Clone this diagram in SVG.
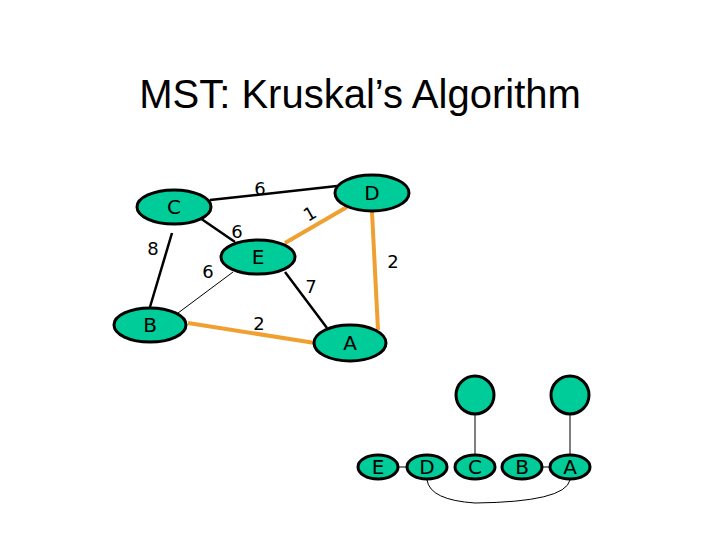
<svg xmlns="http://www.w3.org/2000/svg" width="720" height="540" viewBox="0 0 720 540">
<style>
.n{fill:#00CC99;stroke:#000;stroke-width:3}
.t{font-family:"DejaVu Sans",sans-serif;font-size:20px;fill:#000;text-anchor:middle}
.s{font-family:"DejaVu Sans",sans-serif;font-size:18px;fill:#000;text-anchor:middle}
.k{stroke:#000;stroke-width:2.5;fill:none}
.o{stroke:#F0A030;stroke-width:4;fill:none}
.h{stroke:#000;stroke-width:1;fill:none}
</style>
<rect width="720" height="540" fill="#fff"/>
<text x="360" y="108" font-family="Liberation Sans,sans-serif" font-size="40" text-anchor="middle">MST: Kruskal’s Algorithm</text>
<g id="edges">
<line class="k" x1="210" y1="200" x2="337" y2="186"/>
<line class="k" x1="200" y1="218" x2="235" y2="242"/>
<line class="k" x1="172" y1="233" x2="150" y2="307"/>
<line class="h" x1="178" y1="313" x2="233" y2="272"/>
<line class="o" x1="285" y1="243" x2="347" y2="207"/>
<line class="o" x1="372" y1="212" x2="378" y2="330"/>
<line class="k" x1="285" y1="272" x2="327" y2="328"/>
<line class="o" x1="188" y1="323" x2="315" y2="343"/>
<line class="h" x1="398" y1="467" x2="407" y2="467"/>
<line class="h" x1="542" y1="467" x2="550" y2="467"/>
<line class="h" x1="475" y1="414" x2="475" y2="454"/>
<line class="h" x1="570" y1="414" x2="570" y2="454"/>
<path class="h" d="M427,480 Q430,500 475,503 Q565,502 570,480"/>
</g>
<g id="labels">
<text class="s" x="260" y="195">6</text>
<text class="s" x="237" y="238">6</text>
<text class="s" x="153" y="255">8</text>
<text class="s" x="208" y="278">6</text>
<text class="s" x="310" y="220" transform="rotate(-30 310 214)">1</text>
<text class="s" x="393" y="268">2</text>
<text class="s" x="311" y="293">7</text>
<text class="s" x="259" y="330">2</text>
</g>
<g id="C"><ellipse class="n" cx="174" cy="207" rx="37" ry="17"/><text class="t" x="174" y="214">C</text></g>
<g id="D"><ellipse class="n" cx="372" cy="193" rx="37" ry="18"/><text class="t" x="372" y="200">D</text></g>
<g id="E"><ellipse class="n" cx="258" cy="257" rx="37" ry="17"/><text class="t" x="258" y="264">E</text></g>
<g id="B"><ellipse class="n" cx="150" cy="325" rx="36" ry="17"/><text class="t" x="150" y="332">B</text></g>
<g id="A"><ellipse class="n" cx="350" cy="343" rx="36" ry="18"/><text class="t" x="350" y="350">A</text></g>
<g id="sE"><ellipse class="n" cx="378" cy="467" rx="20" ry="12"/><text class="t" x="378" y="474">E</text></g>
<g id="sD"><ellipse class="n" cx="427" cy="467" rx="20" ry="12"/><text class="t" x="427" y="474">D</text></g>
<g id="sC"><ellipse class="n" cx="475" cy="467" rx="20" ry="12"/><text class="t" x="475" y="474">C</text></g>
<g id="sB"><ellipse class="n" cx="522" cy="467" rx="20" ry="12"/><text class="t" x="522" y="474">B</text></g>
<g id="sA"><ellipse class="n" cx="570" cy="467" rx="20" ry="12"/><text class="t" x="570" y="474">A</text></g>
<g id="rC"><circle class="n" cx="475" cy="395" r="19"/></g>
<g id="rA"><circle class="n" cx="570" cy="395" r="19"/></g>
</svg>
